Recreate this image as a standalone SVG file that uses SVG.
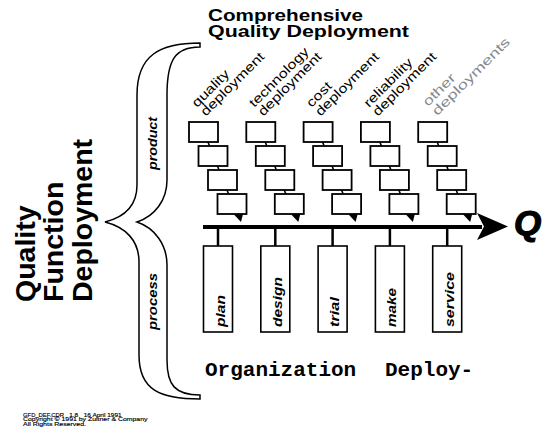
<svg xmlns="http://www.w3.org/2000/svg" width="545" height="434" viewBox="0 0 545 434">
<style>
.bx{fill:#fff;stroke:#000;stroke-width:1.8}
.g .bx{stroke:#a8a8a8}
.cn{stroke:#000;stroke-width:1.6}
.g .cn{stroke:#a8a8a8}
.tri{fill:#000}
.g .tri{fill:#707070}
.lab{font-family:"Liberation Sans",Arial,sans-serif;font-size:13px;fill:#000}
.g .lab{fill:#888}
.pl{font-family:"Liberation Sans",Arial,sans-serif;font-size:13px;font-weight:bold;font-style:italic;fill:#000}
.pb{fill:#fff;stroke:#000;stroke-width:1.6}
.tk{stroke:#000;stroke-width:2.5}
.ttl{font-family:"Liberation Sans",Arial,sans-serif;font-weight:bold;fill:#000}
.mono{font-family:"Liberation Mono","Courier New",monospace;font-weight:bold;font-size:21px;fill:#000}
.ft{font-family:"Liberation Sans",Arial,sans-serif;font-size:6px;fill:#000;stroke:#000;stroke-width:0.15}
</style>
<defs>
<g id="col">
<rect class="bx" x="0" y="122" width="29" height="20"/>
<rect class="bx" x="9.5" y="146" width="29" height="20"/>
<rect class="bx" x="19" y="170" width="29" height="20"/>
<rect class="bx" x="28.5" y="194" width="29" height="20"/>
<line class="cn" x1="19" y1="142" x2="20.5" y2="146"/>
<line class="cn" x1="28.5" y1="166" x2="30" y2="170"/>
<line class="cn" x1="38" y1="190" x2="39.5" y2="194"/>
<polygon class="tri" points="44.5,214 54,214 52,222"/>
</g>
</defs>
<g id="title">
<text class="ttl" x="208" y="20.5" font-size="17" textLength="155" lengthAdjust="spacingAndGlyphs">Comprehensive</text>
<text class="ttl" x="208" y="37" font-size="17" textLength="201" lengthAdjust="spacingAndGlyphs">Quality  Deployment</text>
</g>
<g id="qfd">
<text class="ttl" font-size="28.5" transform="translate(35,302) rotate(-90)">Quality</text>
<text class="ttl" font-size="28.5" transform="translate(63,302) rotate(-90)">Function</text>
<text class="ttl" font-size="28.5" transform="translate(92,302) rotate(-90)">Deployment</text>
</g>
<g id="brace">
<path d="M200 43 C160 43 137 55 137 95 L137 185 C137 205 125 217 105 222 C125 227 139 240 139 262 L139 355 C139 390 160 399 200 399 L200 395 C175 395 167 385 167 360 L167 265 C167 245 155 228 137 222 C155 216 167 200 167 180 L167 95 C167 60 175 47 200 47 Z" fill="#fff" stroke="#000" stroke-width="1.5"/>
<text class="pl" font-size="14" transform="translate(157,170) rotate(-90)" textLength="53" lengthAdjust="spacingAndGlyphs">product</text>
<text class="pl" font-size="14" transform="translate(157,330) rotate(-90)" textLength="57" lengthAdjust="spacingAndGlyphs">process</text>
</g>
<g id="quality"><use href="#col" x="189"/><text class="lab" transform="translate(197,108) rotate(-45)"><tspan x="0" y="0" textLength="47" lengthAdjust="spacingAndGlyphs">quality</tspan><tspan x="0" y="12.5" textLength="84" lengthAdjust="spacingAndGlyphs">deployment</tspan></text></g>
<g id="technology"><use href="#col" x="246.3"/><text class="lab" transform="translate(254.3,108) rotate(-45)"><tspan x="0" y="0" textLength="78.6" lengthAdjust="spacingAndGlyphs">technology</tspan><tspan x="0" y="12.5" textLength="84" lengthAdjust="spacingAndGlyphs">deployment</tspan></text></g>
<g id="cost"><use href="#col" x="303.6"/><text class="lab" transform="translate(311.6,108) rotate(-45)"><tspan x="0" y="0" textLength="29.8" lengthAdjust="spacingAndGlyphs">cost</tspan><tspan x="0" y="12.5" textLength="84" lengthAdjust="spacingAndGlyphs">deployment</tspan></text></g>
<g id="reliability"><use href="#col" x="360.9"/><text class="lab" transform="translate(368.9,108) rotate(-45)"><tspan x="0" y="0" textLength="63.2" lengthAdjust="spacingAndGlyphs">reliability</tspan><tspan x="0" y="12.5" textLength="84" lengthAdjust="spacingAndGlyphs">deployment</tspan></text></g>
<g id="other" class="g"><use href="#col" x="418.2"/><text class="lab" transform="translate(428,107) rotate(-45)"><tspan x="0" y="0" textLength="40" lengthAdjust="spacingAndGlyphs">other</tspan><tspan x="0" y="13" textLength="104" lengthAdjust="spacingAndGlyphs">deployments</tspan></text></g>
<g id="connectors">
<line x1="203" y1="227" x2="482" y2="227" stroke="#000" stroke-width="4"/>
<polygon points="477,213 508,226.5 477,240 484,226.5" fill="#000"/>
<line class="tk" x1="218" y1="229" x2="218" y2="246"/>
<line class="tk" x1="275.3" y1="229" x2="275.3" y2="246"/>
<line class="tk" x1="332.6" y1="229" x2="332.6" y2="246"/>
<line class="tk" x1="389.9" y1="229" x2="389.9" y2="246"/>
<line class="tk" x1="447.2" y1="229" x2="447.2" y2="246"/>
</g>
<g id="Q"><text class="ttl" x="514" y="235" font-size="35" font-style="italic" stroke="#000" stroke-width="1.2">Q</text></g>
<g id="plan"><rect class="pb" x="203.5" y="246" width="29" height="86"/><text class="pl" transform="translate(224.5,327) rotate(-90)" textLength="32" lengthAdjust="spacingAndGlyphs">plan</text></g>
<g id="design"><rect class="pb" x="260.8" y="246" width="29" height="86"/><text class="pl" transform="translate(281.8,327) rotate(-90)" textLength="50" lengthAdjust="spacingAndGlyphs">design</text></g>
<g id="trial"><rect class="pb" x="318.1" y="246" width="29" height="86"/><text class="pl" transform="translate(339.1,327) rotate(-90)" textLength="30" lengthAdjust="spacingAndGlyphs">trial</text></g>
<g id="make"><rect class="pb" x="375.4" y="246" width="29" height="86"/><text class="pl" transform="translate(396.4,327) rotate(-90)" textLength="39" lengthAdjust="spacingAndGlyphs">make</text></g>
<g id="service"><rect class="pb" x="432.7" y="246" width="29" height="86"/><text class="pl" transform="translate(453.7,327) rotate(-90)" textLength="55" lengthAdjust="spacingAndGlyphs">service</text></g>
<g id="org">
<text class="mono" x="205" y="376">Organization</text>
<text class="mono" x="385" y="376">Deploy-</text>
</g>
<g id="footer">
<text class="ft" y="416.5"><tspan x="23" textLength="41" lengthAdjust="spacingAndGlyphs">GFD_DEF.CDR</tspan><tspan x="69.2" textLength="9" lengthAdjust="spacingAndGlyphs">1.8</tspan><tspan x="83.7" textLength="38" lengthAdjust="spacingAndGlyphs">16 April 1991</tspan></text>
<text class="ft" x="23" y="421" textLength="124.5" lengthAdjust="spacingAndGlyphs">Copyright © 1991 by Zultner &amp; Company</text>
<text class="ft" x="23" y="425.5" textLength="63" lengthAdjust="spacingAndGlyphs">All Rights Reserved.</text>
</g>
</svg>
